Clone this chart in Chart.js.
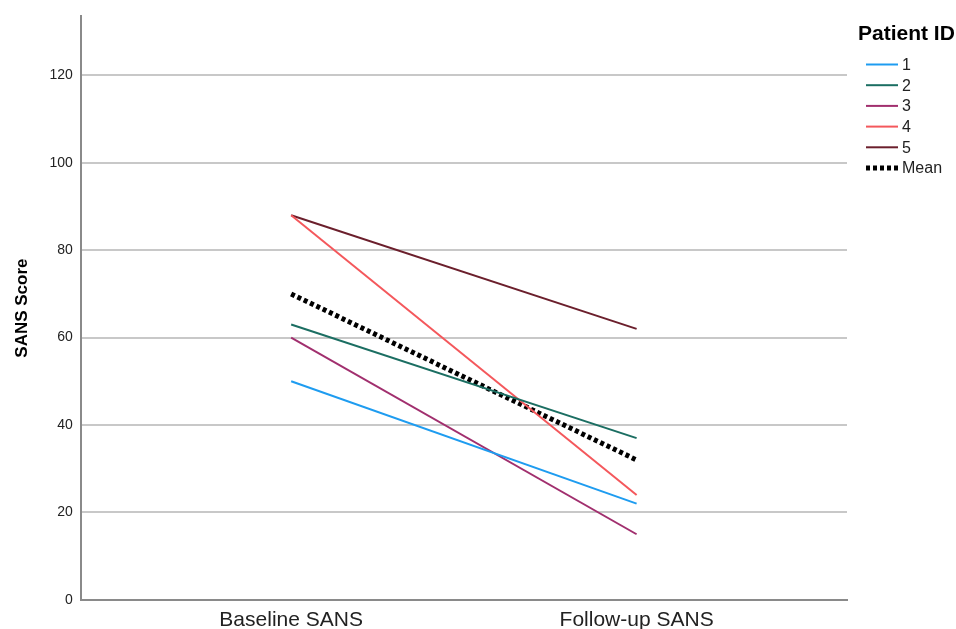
<!DOCTYPE html>
<html>
<head>
<meta charset="utf-8">
<script src="https://cdn.jsdelivr.net/npm/chart.js@4"></script>
<style>
  html, body { margin: 0; padding: 0; background: #fff; }
  #wrap { width: 956px; height: 629px; }
</style>
</head>
<body>
<div id="wrap"><canvas id="lineChart"></canvas></div>
<script>
"use strict";

// data
var timepoints = ["Baseline SANS", "Follow-up SANS"];
var patient_ids = ["1", "2", "3", "4", "5"];
var patient_1 = [50, 22];
var patient_2 = [63, 37];
var patient_3 = [60, 15];
var patient_4 = [88, 24];
var patient_5 = [88, 62];
var mean_score = [70, 32];
var y_ticks = [0, 20, 40, 60, 80, 100, 120];

var colors = ["#1e9cf0", "#1b6e62", "#a12f6e", "#f4585c", "#6b1f2c"];
var series = [patient_1, patient_2, patient_3, patient_4, patient_5];

var font_family = "'Liberation Sans', Arial, sans-serif";

function to_points(values) {
    var pts = [];
    for (var i = 0; i < values.length; i++) {
        pts.push({x: i, y: values[i]});
    }
    return pts;
}

var datasets = [];
for (var i = 0; i < series.length; i++) {
    datasets.push({
        label: patient_ids[i],
        data: to_points(series[i]),
        borderColor: colors[i],
        backgroundColor: colors[i],
        borderWidth: 2,
        pointRadius: 0
    });
}
datasets.push({
    label: "Mean",
    data: to_points(mean_score),
    borderColor: "#000",
    backgroundColor: "#000",
    borderWidth: 5,
    borderDash: [4, 3],
    pointRadius: 0
});

// legend on the right, drawn like the SPSS one (title, short line, label)
var side_legend = {
    id: "side_legend",
    afterDraw: function (chart) {
        var c = chart.ctx;
        var left = chart.chartArea.right + 11;
        c.save();
        c.textBaseline = "middle";
        c.textAlign = "left";
        c.fillStyle = "#000";
        c.font = "bold 21px " + font_family;
        c.fillText("Patient ID", left, 34);

        c.font = "16px " + font_family;
        chart.data.datasets.forEach(function (ds, k) {
            var y = 64.5 + k * 20.7;
            c.strokeStyle = ds.borderColor;
            c.lineWidth = ds.borderWidth;
            c.setLineDash(ds.borderDash || []);
            c.beginPath();
            c.moveTo(left + 8, y);
            c.lineTo(left + 40, y);
            c.stroke();
            c.setLineDash([]);
            c.fillStyle = "#222";
            c.fillText(ds.label, left + 44, y + 1);
        });
        c.restore();
    }
};

var ctx = document.getElementById("lineChart").getContext("2d");
var chart = new Chart(ctx, {
    type: "line",
    data: { datasets: datasets },
    plugins: [side_legend],
    options: {
        responsive: true,
        maintainAspectRatio: false,
        animation: false,
        layout: { padding: { top: 12, right: 109, left: 12, bottom: -4 } },
        plugins: {
            tooltip: { enabled: false },
            legend: { display: false }
        },
        scales: {
            x: {
                type: "linear",
                min: -0.609,
                max: 1.609,
                afterBuildTicks: function (axis) {
                    axis.ticks = timepoints.map(function (t, i) { return {value: i}; });
                },
                ticks: {
                    color: "#222",
                    font: { family: font_family, size: 21 },
                    padding: 0,
                    maxRotation: 0,
                    callback: function (v) { return timepoints[v]; }
                },
                grid: { display: false },
                border: { color: "#8a8a8a", width: 2 }
            },
            y: {
                min: 0,
                max: 133.5,
                afterBuildTicks: function (axis) {
                    axis.ticks = y_ticks.map(function (v) { return {value: v}; });
                },
                ticks: {
                    color: "#222",
                    font: { family: font_family, size: 14 },
                    padding: 8
                },
                grid: { color: "#c8c8c8", lineWidth: 2, drawTicks: false },
                border: { color: "#8a8a8a", width: 2 },
                title: {
                    display: true,
                    text: "SANS Score",
                    color: "#000",
                    font: { family: font_family, size: 17, weight: "bold" },
                    padding: { top: 0, bottom: 9 }
                }
            }
        }
    }
});
</script>
</body>
</html>
